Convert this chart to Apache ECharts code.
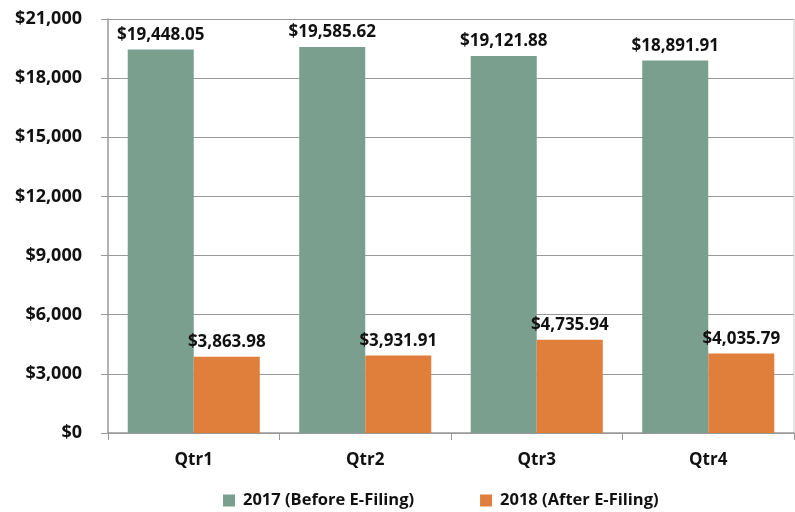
<!DOCTYPE html>
<html lang="en">
<head>
    <meta charset="UTF-8">
    <title>E-Filing Quarterly Comparison</title>
    <script src="https://cdn.jsdelivr.net/npm/echarts@6/dist/echarts.min.js"></script>
    <style>
        html, body { margin: 0; padding: 0; background: #fff; }
        #chart { width: 795px; height: 512px; }
    </style>
</head>
<body>
<div id="chart"></div>
<script>
    // chart data
    var quarters = ['Qtr1', 'Qtr2', 'Qtr3', 'Qtr4'];
    var before2017 = [19448.05, 19585.62, 19121.88, 18891.91];
    var after2018 = [3863.98, 3931.91, 4735.94, 4035.79];
    var seriesNames = ['2017 (Before E-Filing)', '2018 (After E-Filing)'];

    var FONT = '"Open Sans", sans-serif';

    function money(v, dec) {
        return '$' + Number(v).toLocaleString('en-US', {
            minimumFractionDigits: dec, maximumFractionDigits: dec
        });
    }

    var chart = echarts.init(document.getElementById('chart'));

    var labelStyle = {
        show: true,
        position: 'top',
        distance: 6,
        color: '#111',
        fontFamily: FONT,
        fontWeight: 'bold',
        fontSize: 17,
        formatter: function(p) { return money(p.value, 2); }
    };

    chart.setOption({
        animation: false,
        textStyle: { fontFamily: FONT },
        grid: { left: 108, right: 1, top: 19, bottom: 79, containLabel: false },
        legend: {
            bottom: 3,
            left: 223,
            padding: 0,
            itemWidth: 12,
            itemHeight: 12,
            itemGap: 66,
            icon: 'rect',
            textStyle: {
                fontFamily: FONT, fontWeight: 'bold', fontSize: 16.5, color: '#111',
                padding: [0, 0, 0, 3]
            },
            data: seriesNames
        },
        xAxis: {
            type: 'category',
            data: quarters,
            axisLine: { lineStyle: { color: '#999', width: 1.5 } },
            axisTick: { show: true, length: 7, alignWithLabel: false, lineStyle: { color: '#999' } },
            axisLabel: { margin: 19, color: '#111', fontFamily: FONT, fontWeight: 'bold', fontSize: 17 }
        },
        yAxis: {
            type: 'value',
            min: 0,
            max: 21000,
            interval: 3000,
            axisLine: { show: true, lineStyle: { color: '#999', width: 1.5 } },
            axisTick: { show: true, length: 7, lineStyle: { color: '#999' } },
            splitLine: { show: true, lineStyle: { color: '#999', width: 1 } },
            axisLabel: {
                margin: 26,
                color: '#111',
                fontFamily: FONT,
                fontWeight: 'bold',
                fontSize: 18,
                formatter: function(v) { return money(v, 0); }
            }
        },
        series: [
            {
                name: seriesNames[0],
                type: 'bar',
                data: before2017,
                barGap: '0%',
                barCategoryGap: '23%',
                itemStyle: { color: '#7A9F8F' },
                label: labelStyle
            },
            {
                name: seriesNames[1],
                type: 'bar',
                data: after2018,
                itemStyle: { color: '#E07F3C' },
                label: labelStyle
            }
        ]
    });

    // right-hand border of the plot area
    chart.setOption({
        graphic: [{
            type: 'line',
            shape: { x1: 794, y1: 19, x2: 794, y2: 433 },
            style: { stroke: '#ccc', lineWidth: 1 }
        }]
    });
</script>
</body>
</html>
